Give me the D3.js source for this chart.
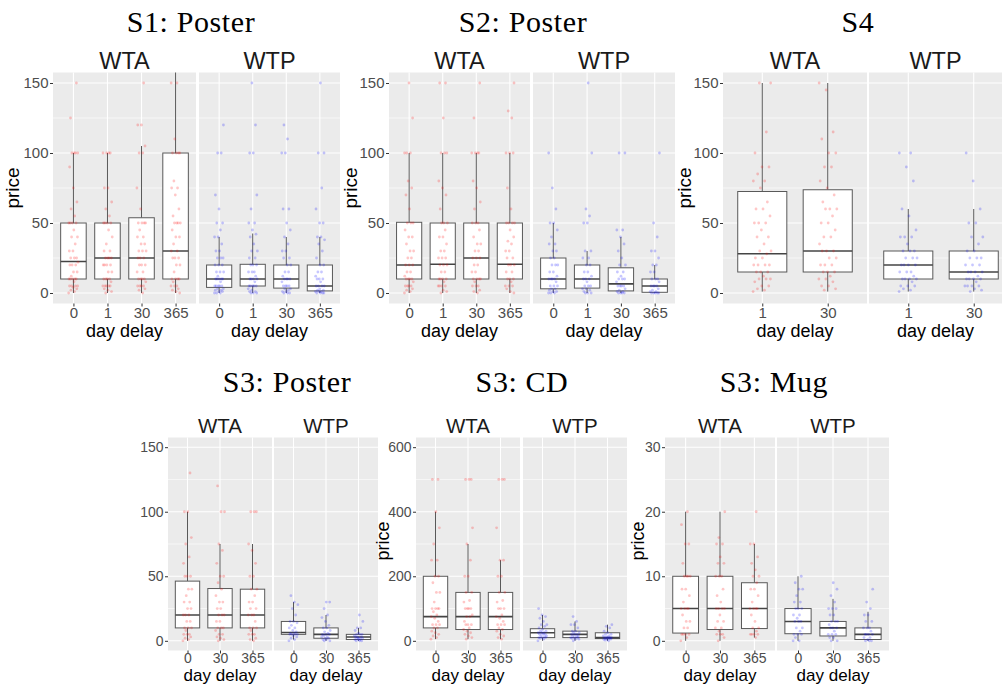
<!DOCTYPE html>
<html><head><meta charset="utf-8">
<script src="https://cdn.jsdelivr.net/npm/d3@7"></script>
<style>
html,body{margin:0;padding:0;background:#fff;}
svg{display:block;}
</style></head>
<body>
<svg id="chart" width="1002" height="685"></svg>
<script>
// ---------------- DATA ----------------
const facetNames = ["WTA", "WTP"];
const xLabel = "day delay";
const yLabel = "price";

// stats per box: [whiskerLow, q1, median, q3, whiskerHigh]
const s1Categories = ["0", "1", "30", "365"];
const s1Ticks = [0, 50, 100, 150];
const s1WtaStats = [[0, 10, 22.5, 50, 100], [0, 10, 25, 50, 100], [0, 10, 25, 53.75, 105], [0, 10, 30, 100, 160]];
const s1WtpStats = [[0, 4, 10, 20, 40], [0, 5, 10, 20.5, 42.5], [0, 3.5, 10, 20, 40], [0, 1.5, 5, 20, 40]];
const s1WtaPoints = [
  [0,1,2,3,4,5,5,5,5,8,10,10,10,10,10,12,15,15,20,20,20,22,25,25,25,30,30,35,40,40,45,50,50,50,50,55,60,65,75,90,100,100,100,100,125,150],
  [0,1,2,3,5,5,5,5,5,8,10,10,10,10,15,15,20,20,20,20,25,25,25,25,30,30,35,40,45,50,50,50,50,55,60,65,75,75,100,100,100,100],
  [0,2,3,5,5,5,5,8,10,10,10,10,15,15,20,20,20,25,25,25,30,30,30,35,35,40,40,45,50,50,50,50,60,75,100,100,105,120,120,150],
  [0,1,2,3,5,5,5,8,10,10,10,10,15,20,20,25,25,25,30,30,35,40,40,45,50,50,50,50,55,60,70,75,75,80,100,100,100,100,110,150,150]];
const s1WtpPoints = [
  [0,0,0,1,1,2,2,3,3,5,5,5,5,5,8,10,10,10,10,10,12,15,15,15,20,20,20,25,25,25,30,30,35,40,40,45,50,50,60,70,100,100,120],
  [0,0,0,1,1,2,3,5,5,5,5,5,8,10,10,10,10,12,15,15,15,20,20,20,25,25,30,30,35,40,42,45,50,50,60,70,100,100,120,150],
  [0,0,0,1,1,2,3,3,5,5,5,5,8,10,10,10,10,12,15,15,20,20,25,25,30,30,35,40,45,50,60,60,100,100,110,120],
  [0,0,0,0,1,1,1,2,2,3,5,5,5,5,8,10,10,10,12,15,15,20,20,25,30,35,38,40,40,50,50,60,75,100,100,150]];

const s2Categories = ["0", "1", "30", "365"];
const s2Ticks = [0, 50, 100, 150];
const s2WtaStats = [[0, 10, 20, 50.5, 100], [0, 10, 20.5, 50, 100], [0, 10, 25, 50, 100], [0, 10, 20.5, 50, 100]];
const s2WtpStats = [[0, 3, 10, 25, 50], [0, 3.5, 10, 20, 30], [0, 1.5, 6.5, 18, 40], [0, 0.5, 5, 10, 20]];
const s2WtaPoints = [
  [0,1,2,3,5,5,5,5,8,10,10,10,10,12,15,15,20,20,20,25,25,30,30,35,40,40,45,50,50,50,60,70,75,80,100,100,100,125,150],
  [0,1,2,5,5,5,5,8,10,10,10,10,15,15,20,20,20,25,25,25,30,30,35,40,40,45,50,50,50,60,70,75,80,100,100,100,125,150,150],
  [0,1,2,5,5,5,8,10,10,10,10,15,15,20,20,25,25,25,30,30,35,35,40,45,50,50,50,60,65,75,80,100,100,100,100,125,150],
  [0,1,3,5,5,5,8,10,10,10,15,15,20,20,20,25,25,30,30,35,37,40,45,50,50,50,50,60,75,100,100,100,125,130,150]];
const s2WtpPoints = [
  [0,0,0,1,1,2,3,3,5,5,5,8,10,10,10,10,12,15,15,20,20,20,25,25,30,30,35,35,40,45,50,50,60,75,100],
  [0,0,0,1,2,3,3,5,5,5,8,10,10,10,12,15,15,20,20,25,25,30,30,50,50,55,60,100,150],
  [0,0,0,0,1,1,2,3,5,5,5,5,8,10,10,10,12,15,15,20,20,25,30,35,40,45,45,100,100],
  [0,0,0,0,0,1,1,2,3,5,5,5,5,8,10,10,10,15,15,20,20,25,30,30,40,50,100]];

const s4Categories = ["1", "30"];
const s4Ticks = [0, 50, 100, 150];
const s4WtaStats = [[1, 15, 28, 72.5, 150], [1, 15, 30, 73.75, 150]];
const s4WtpStats = [[1, 10, 20, 30, 60], [1, 10, 15, 30, 60]];
const s4WtaPoints = [
  [1,2,3,5,5,8,10,10,10,12,15,15,15,20,20,20,20,25,25,28,30,30,35,40,40,45,50,50,50,55,60,60,65,75,80,80,85,90,90,100,115,150,150],
  [2,3,5,5,8,10,10,12,15,15,15,20,20,20,25,25,30,30,30,35,40,40,45,50,50,55,60,60,60,65,70,75,80,90,90,100,100,110,115,145,150]];
const s4WtpPoints = [
  [1,2,3,5,5,5,8,10,10,10,10,12,15,15,15,20,20,20,20,25,25,25,30,30,30,35,40,40,40,45,55,60,80,90,100,100],
  [1,2,3,5,5,5,5,8,10,10,10,10,12,15,15,15,15,20,20,20,25,25,25,30,30,35,40,40,50,50,60,80,100]];

const s3pCategories = ["0", "30", "365"];
const s3pTicks = [0, 50, 100, 150];
const s3pWtaStats = [[0, 10, 20, 46.25, 100], [0, 10, 20, 40.5, 75], [0, 10, 20, 40, 75]];
const s3pWtpStats = [[1, 5, 6.5, 15, 30], [0, 2, 5, 10, 20], [0, 1, 3, 5, 10]];
const s3pWtaPoints = [
  [0,1,2,3,5,5,5,8,10,10,10,15,15,20,20,20,25,25,30,30,35,40,40,50,50,50,60,65,75,80,100,100,130],
  [0,1,2,3,5,5,8,10,10,10,15,15,20,20,20,25,25,30,30,35,40,45,50,50,60,70,75,100,100,120],
  [0,1,2,5,5,5,8,10,10,10,15,20,20,20,25,25,30,30,35,40,40,50,50,60,70,75,100,100,100]];
const s3pWtpPoints = [
  [0,1,2,3,4,5,5,5,5,6,6,7,8,10,10,12,14,15,15,20,25,28,30,35],
  [0,0,1,1,2,2,3,3,4,5,5,5,6,7,8,10,10,12,15,18,20,25,30,30],
  [0,0,0,1,1,1,2,2,2,3,3,3,4,5,5,5,6,8,10,10,15,20]];

const s3cCategories = ["0", "30", "365"];
const s3cTicks = [0, 200, 400, 600];
const s3cWtaStats = [[5, 40, 75, 200, 400], [5, 35, 75, 150, 300], [5, 35, 75, 150, 250]];
const s3cWtpStats = [[0, 10, 25, 37.5, 80], [0, 10, 20, 30, 60], [0, 7, 10, 25, 50]];
const s3cWtaPoints = [
  [5,10,15,20,25,30,40,40,50,50,50,60,70,75,80,90,100,100,100,100,120,150,150,180,200,200,250,250,300,350,400,500,500],
  [5,10,15,20,25,30,35,40,50,50,50,60,75,75,80,100,100,100,100,120,125,150,150,200,200,250,300,350,500,500,500],
  [5,10,15,20,30,35,40,50,50,50,60,70,75,80,100,100,100,120,125,150,150,200,200,250,250,350,500,500,500]];
const s3cWtpPoints = [
  [0,5,8,10,10,10,12,15,15,20,20,20,25,25,25,30,30,35,40,45,50,50,60,70,75,80,100],
  [0,5,5,8,10,10,10,12,15,15,20,20,20,25,25,30,30,40,50,50,60,75],
  [0,2,5,5,5,8,8,10,10,10,10,12,15,15,20,20,25,30,40,45,50]];

const s3mCategories = ["0", "30", "365"];
const s3mTicks = [0, 10, 20, 30];
const s3mWtaStats = [[0, 1.2, 5, 10, 20], [0, 1.75, 5, 10, 20], [0.5, 1.9, 5, 9, 15]];
const s3mWtpStats = [[0, 1.1, 3, 5, 10], [0, 0.75, 2, 3, 6.5], [0, 0.2, 1, 2, 4.5]];
const s3mWtaPoints = [
  [0,0.5,1,1,1,1,2,2,3,3,4,5,5,5,5,6,7,8,8,10,10,10,10,12,15,15,18,20],
  [0,0.5,1,1,1,1.5,2,2,3,3,4,5,5,5,5,6,7,8,10,10,10,12,12,13,15,15,16,20],
  [0.5,1,1,1,1,1.5,2,2,3,4,5,5,5,5,6,7,8,8,9,10,10,11,12,13,15,15,20]];
const s3mWtpPoints = [
  [0,0,0.5,1,1,1,1.5,2,2,3,3,3,3.5,4,4,5,5,5,6,6,7,8,8,9,10],
  [0,0,0.5,0.5,1,1,1,1.5,2,2,2,2.5,3,3,3,4,4,5,5,5,6,7,8,9],
  [0,0,0,0.2,0.5,0.5,1,1,1,1,1.5,2,2,2,3,3,4,4,5,6,8]];

const titles = ["S1: Poster", "S2: Poster", "S4", "S3: Poster", "S3: CD", "S3: Mug"];

// ---------------- LAYOUT ----------------
const topRow = {y0: 72.5, y1: 303.5, titleY: 32, stripY: 69, tickFont: 15, titleFont: 18, stripFont: 23.5, labelY: 337, priceY: 188, tickPad: 0.5};
const botRow = {y0: 437.5, y1: 650.5, titleY: 392, stripY: 433, tickFont: 14, titleFont: 17, stripFont: 20.5, labelY: 681, priceY: 541, tickPad: 0};

const panels = [
  {title: titles[0], row: topRow, cats: s1Categories, ticks: s1Ticks, wta: [53, 196], wtp: [199, 340], tx: 191, px: 19,
   stats: [s1WtaStats, s1WtpStats], points: [s1WtaPoints, s1WtpPoints]},
  {title: titles[1], row: topRow, cats: s2Categories, ticks: s2Ticks, wta: [389, 530], wtp: [533, 675], tx: 523, px: 357,
   stats: [s2WtaStats, s2WtpStats], points: [s2WtaPoints, s2WtpPoints]},
  {title: titles[2], row: topRow, cats: s4Categories, ticks: s4Ticks, wta: [723, 867], wtp: [869, 1013], tx: 858, px: 691,
   stats: [s4WtaStats, s4WtpStats], points: [s4WtaPoints, s4WtpPoints]},
  {title: titles[3], row: botRow, cats: s3pCategories, ticks: s3pTicks, wta: [168, 272], wtp: [274, 378], tx: 287, px: 138,
   stats: [s3pWtaStats, s3pWtpStats], points: [s3pWtaPoints, s3pWtpPoints], clipLeft: 140},
  {title: titles[4], row: botRow, cats: s3cCategories, ticks: s3cTicks, wta: [416, 520], wtp: [523, 627], tx: 522, px: 389,
   stats: [s3cWtaStats, s3cWtpStats], points: [s3cWtaPoints, s3cWtpPoints]},
  {title: titles[5], row: botRow, cats: s3mCategories, ticks: s3mTicks, wta: [665, 775], wtp: [777, 889], tx: 774, px: 644,
   stats: [s3mWtaStats, s3mWtpStats], points: [s3mWtaPoints, s3mWtpPoints]}
];

const colors = ["#ff0000", "#0000ff"];
const sans = "'Liberation Sans', Arial, sans-serif";
const serif = "'Liberation Serif', 'Times New Roman', serif";

const svg = d3.select("#chart");
const defs = svg.append("defs");
let clipId = 0;

panels.forEach((p) => {
  const row = p.row;
  const g = svg.append("g");
  const maxT = p.ticks[p.ticks.length - 1];
  const y = d3.scaleLinear().domain([-0.05 * maxT, 1.05 * maxT]).range([row.y1, row.y0]);

  // title
  g.append("text").attr("x", p.tx).attr("y", row.titleY).attr("text-anchor", "middle")
    .attr("font-family", serif).attr("font-size", 30).attr("letter-spacing", 0.6).attr("fill", "#000").text(p.title);

  [p.wta, p.wtp].forEach((ext, fi) => {
    const [x0, x1] = ext;
    const xv = Math.min(x1, 1002);
    const x = d3.scalePoint().domain(p.cats).range([x0, x1]).padding(0.6);
    const step = x.step();
    const fg = g.append("g");
    // background
    fg.append("rect").attr("x", x0).attr("y", row.y0).attr("width", x1 - x0).attr("height", row.y1 - row.y0).attr("fill", "#ebebeb");
    // grid
    const minors = p.ticks.slice(0, -1).map((t, i) => (t + p.ticks[i + 1]) / 2);
    fg.selectAll(".minor").data(minors).join("line")
      .attr("x1", x0).attr("x2", x1).attr("y1", d => y(d)).attr("y2", d => y(d))
      .attr("stroke", "#fff").attr("stroke-width", 0.6);
    fg.selectAll(".major").data(p.ticks).join("line")
      .attr("x1", x0).attr("x2", x1).attr("y1", d => y(d)).attr("y2", d => y(d))
      .attr("stroke", "#fff").attr("stroke-width", 1.1);
    fg.selectAll(".vgrid").data(p.cats).join("line")
      .attr("x1", d => x(d)).attr("x2", d => x(d)).attr("y1", row.y0).attr("y2", row.y1)
      .attr("stroke", "#fff").attr("stroke-width", 1.1);

    // clip to panel
    const cid = "clip" + (clipId++);
    defs.append("clipPath").attr("id", cid).append("rect")
      .attr("x", x0).attr("y", row.y0).attr("width", x1 - x0).attr("height", row.y1 - row.y0);
    const pg = fg.append("g").attr("clip-path", `url(#${cid})`);

    const stats = p.stats[fi];
    const hw = step * 0.375;
    p.cats.forEach((c, ci) => {
      const [lo, q1, med, q3, hi] = stats[ci];
      const cx = x(c);
      pg.append("line").attr("x1", cx).attr("x2", cx).attr("y1", y(q3)).attr("y2", y(hi)).attr("stroke", "#595959").attr("stroke-width", 1);
      pg.append("line").attr("x1", cx).attr("x2", cx).attr("y1", y(q1)).attr("y2", y(lo)).attr("stroke", "#595959").attr("stroke-width", 1);
      pg.append("rect").attr("x", cx - hw).attr("y", y(q3)).attr("width", 2 * hw).attr("height", y(q1) - y(q3))
        .attr("fill", "#fff").attr("stroke", "#595959").attr("stroke-width", 1);
      pg.append("line").attr("x1", cx - hw).attr("x2", cx + hw).attr("y1", y(med)).attr("y2", y(med)).attr("stroke", "#444").attr("stroke-width", 1.6);
    });
    // jittered points (deterministic low-discrepancy horizontal jitter)
    p.cats.forEach((c, ci) => {
      const vals = p.points[fi][ci];
      pg.selectAll(null).data(vals).join("circle")
        .attr("cx", (d, i) => x(c) + (((i * 0.6180339887 + ci * 0.31) % 1) - 0.5) * 0.28 * step)
        .attr("cy", d => y(d))
        .attr("r", 1.4)
        .attr("fill", colors[fi]).attr("fill-opacity", 0.22);
    });

    // x axis
    const xa = fg.append("g").attr("transform", `translate(0,${row.y1})`)
      .call(d3.axisBottom(x).tickSize(3).tickPadding(row.tickPad));
    xa.select(".domain").remove();
    xa.selectAll(".tick line").attr("stroke", "#333");
    xa.selectAll("text").attr("font-family", sans).attr("font-size", row.tickFont).attr("fill", "#4d4d4d");

    // y axis (left facet only)
    if (fi === 0) {
      const ya = fg.append("g").attr("transform", `translate(${x0},0)`)
        .call(d3.axisLeft(y).tickValues(p.ticks).tickSize(3).tickPadding(1.5));
      ya.select(".domain").remove();
      ya.selectAll(".tick line").attr("stroke", "#333");
      ya.selectAll("text").attr("font-family", sans).attr("font-size", row.tickFont).attr("fill", "#4d4d4d");
      const pt = fg.append("text").attr("transform", `translate(${p.px},${row.priceY}) rotate(-90)`)
        .attr("text-anchor", "middle").attr("font-family", sans).attr("font-size", row.titleFont + 1).attr("fill", "#000").text(yLabel);
      if (p.clipLeft) {
        const c2 = "clip" + (clipId++);
        defs.append("clipPath").attr("id", c2).append("rect").attr("x", p.clipLeft).attr("y", 0).attr("width", 100).attr("height", 685);
        pt.attr("clip-path", `url(#${c2})`);
      }
    }
    // strip label
    fg.append("text").attr("x", (x0 + xv) / 2).attr("y", row.stripY)
      .attr("text-anchor", "middle").attr("font-family", sans).attr("font-size", row.stripFont).attr("fill", "#1a1a1a")
      .text(facetNames[fi]);
    // x title
    fg.append("text").attr("x", (x0 + xv) / 2).attr("y", row.labelY)
      .attr("text-anchor", "middle").attr("font-family", sans).attr("font-size", row.titleFont).attr("fill", "#000")
      .text(xLabel);
  });
});
</script>
</body></html>
